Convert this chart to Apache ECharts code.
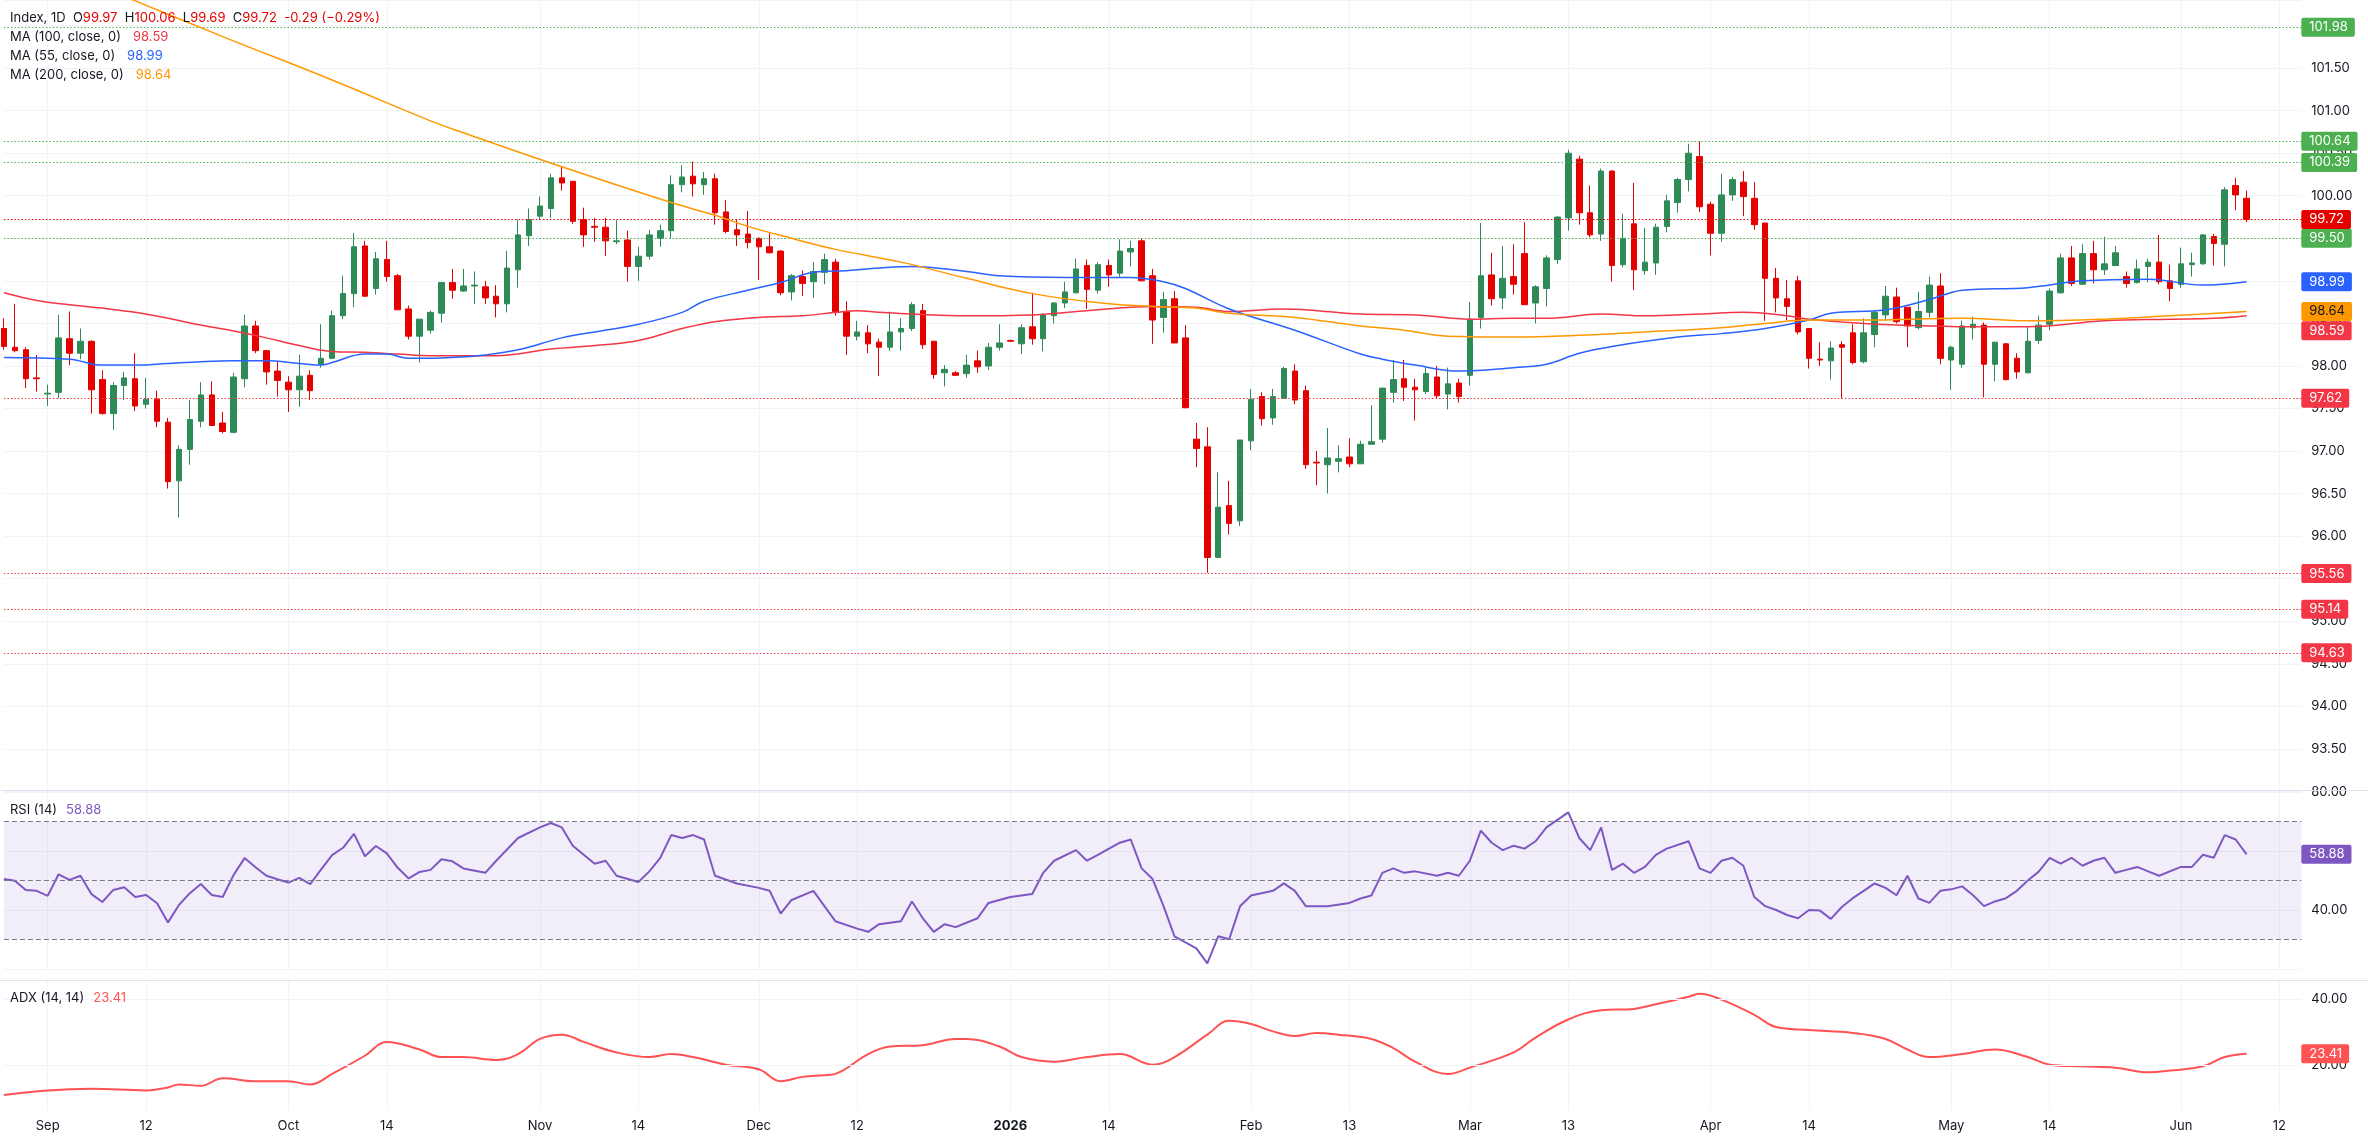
<!DOCTYPE html>
<html><head><meta charset="utf-8">
<script src="https://cdn.jsdelivr.net/npm/echarts@6/dist/echarts.min.js"></script>
<style>html,body{margin:0;padding:0;background:#fff}#c{width:2368px;height:1137px}</style>
</head><body><div id="c"></div>
<script>
// ---------------- DATA ----------------
const startDate = '2025-08-26';
const totalCategories = 211;
const tickLabels = [
 ['2025-09-01','Sep'],['2025-09-12','12'],['2025-10-01','Oct'],['2025-10-14','14'],
 ['2025-11-03','Nov'],['2025-11-14','14'],['2025-12-01','Dec'],['2025-12-12','12'],
 ['2026-01-01','2026'],['2026-01-14','14'],['2026-02-02','Feb'],['2026-02-13','13'],
 ['2026-03-02','Mar'],['2026-03-13','13'],['2026-04-01','Apr'],['2026-04-14','14'],
 ['2026-05-01','May'],['2026-05-14','14'],['2026-06-01','Jun'],['2026-06-12','12']
];
const boldTicks = ['2026'];

const opens = [98.44,98.22,98.19,97.86,97.67,97.69,98.32,98.15,98.29,97.84,
97.44,97.77,97.85,97.55,97.61,97.34,96.65,97.02,97.35,97.66,
97.33,97.22,97.85,98.47,98.18,97.94,97.81,97.72,97.89,98.02,
98.09,98.59,98.85,99.41,98.91,99.25,99.06,98.67,98.35,98.42,
98.62,98.98,98.88,98.94,98.93,98.82,98.73,99.13,99.53,99.76,
99.85,100.21,100.17,99.72,99.64,99.63,99.46,99.48,99.17,99.29,
99.50,99.59,100.13,100.23,100.13,100.20,99.81,99.60,99.55,99.50,
99.40,99.35,98.87,99.05,98.99,99.10,99.22,98.64,98.35,98.39,
98.28,98.22,98.40,98.44,98.65,98.29,97.92,97.92,97.91,98.06,
98.00,98.22,98.30,98.26,98.46,98.32,98.59,98.74,98.86,99.18,
98.89,99.18,99.09,99.34,99.47,99.06,98.57,98.79,98.33,97.14,
97.05,95.75,96.36,96.18,97.12,97.64,97.39,97.62,97.94,97.71,
96.87,96.84,96.88,96.93,96.85,97.08,97.14,97.69,97.85,97.75,
97.70,97.87,97.67,97.80,97.89,98.57,99.07,98.80,99.05,99.32,
98.74,98.91,99.25,99.74,100.43,99.80,99.55,100.29,99.19,99.67,
99.12,99.21,99.64,99.92,100.19,100.46,99.90,99.56,100.01,100.16,
99.97,99.68,99.03,98.79,99.00,98.44,98.08,98.06,98.25,98.39,
98.05,98.37,98.60,98.81,98.69,98.45,98.63,98.94,98.07,98.02,
98.45,98.48,98.02,98.26,98.09,97.92,98.30,98.49,98.86,99.27,
98.96,99.32,99.13,99.18,99.05,98.98,99.17,99.22,99.00,98.96,
99.19,99.20,99.52,99.43,100.12,99.97];
const highs = [98.56,98.73,98.22,98.13,97.78,98.60,98.64,98.44,98.30,97.95,
97.81,97.93,98.15,97.86,97.71,97.39,97.07,97.60,97.81,97.82,
97.46,97.92,98.60,98.53,98.18,98.05,97.88,98.13,97.95,98.49,
98.65,99.06,99.56,99.47,99.34,99.47,99.08,98.71,98.55,98.65,
98.98,99.14,99.14,99.11,99.00,98.95,99.35,99.72,99.85,99.99,
100.26,100.35,100.17,99.86,99.74,99.74,99.71,99.59,99.40,99.60,
99.66,100.24,100.36,100.40,100.28,100.26,99.95,99.72,99.82,99.51,
99.56,99.36,99.08,99.12,99.22,99.32,99.26,98.76,98.53,98.48,
98.32,98.64,98.56,98.75,98.73,98.29,98.01,97.94,98.13,98.18,
98.27,98.49,98.31,98.49,98.86,98.62,98.75,98.99,99.26,99.25,
99.22,99.25,99.49,99.47,99.50,99.14,98.87,98.88,98.48,97.33,
97.28,96.75,96.65,97.13,97.73,97.69,97.73,97.99,98.02,97.77,
97.00,97.27,97.07,97.15,97.12,97.54,97.74,98.07,98.07,97.85,
97.99,98.00,97.98,97.85,98.75,99.68,99.33,99.41,99.43,99.69,
98.95,99.30,99.76,100.54,100.47,100.12,100.32,100.30,99.79,100.15,
99.62,99.67,100.01,100.21,100.61,100.64,99.93,100.26,100.22,100.29,
100.16,99.68,99.15,99.01,99.06,98.44,98.28,98.29,98.29,98.49,
98.56,98.65,98.94,98.92,98.69,98.87,99.05,99.09,98.24,98.53,
98.58,98.51,98.28,98.27,98.15,98.46,98.59,98.91,99.32,99.41,
99.43,99.47,99.52,99.41,99.11,99.25,99.26,99.54,99.19,99.39,
99.33,99.55,99.55,100.10,100.21,100.06];
const lows = [98.19,98.16,97.74,97.70,97.53,97.62,98.01,98.08,97.44,97.43,
97.25,97.60,97.47,97.50,97.28,96.56,96.22,96.84,97.28,97.30,
97.21,97.21,97.75,98.15,97.78,97.64,97.46,97.52,97.60,97.98,
98.08,98.55,98.69,98.81,98.84,98.99,98.66,98.31,98.04,98.38,
98.51,98.79,98.87,98.73,98.73,98.57,98.63,98.92,99.41,99.72,
99.74,100.06,99.67,99.40,99.46,99.29,99.43,98.99,99.00,99.25,
99.40,99.50,100.04,99.99,100.01,99.66,99.56,99.41,99.38,99.01,
99.32,98.83,98.77,98.82,98.80,98.96,98.59,98.13,98.30,98.15,
97.88,98.18,98.18,98.41,98.20,97.85,97.76,97.89,97.86,97.92,
97.95,98.18,98.29,98.14,98.25,98.17,98.50,98.68,98.85,98.67,
98.85,98.93,99.05,99.17,99.00,98.26,98.39,98.27,97.50,96.81,
95.57,95.75,96.02,96.12,97.01,97.30,97.31,97.62,97.55,96.79,
96.60,96.50,96.75,96.81,96.85,97.08,97.10,97.57,97.59,97.36,
97.67,97.62,97.49,97.57,97.77,98.44,98.71,98.67,98.84,98.72,
98.50,98.70,99.20,99.59,99.66,99.51,99.47,98.99,99.16,98.89,
99.07,99.07,99.57,99.80,100.05,99.81,99.30,99.46,99.94,99.76,
99.60,98.53,98.63,98.54,98.37,97.97,98.00,97.84,97.62,98.02,
98.03,98.22,98.53,98.50,98.22,98.43,98.57,98.02,97.72,97.98,
98.31,97.63,97.82,97.83,97.85,97.91,98.26,98.42,98.85,98.94,
98.96,98.97,99.07,99.18,98.92,98.97,98.98,98.96,98.76,98.92,
99.05,99.19,99.18,99.17,99.83,99.69];
const closes = [98.23,98.18,97.85,97.85,97.68,98.33,98.15,98.29,97.72,97.44,
97.77,97.86,97.53,97.61,97.35,96.64,97.02,97.37,97.66,97.30,
97.23,97.87,98.47,98.18,97.93,97.83,97.72,97.88,97.71,98.09,
98.59,98.85,99.40,98.82,99.26,99.05,98.66,98.35,98.55,98.63,
98.98,98.89,98.94,98.95,98.80,98.73,99.15,99.54,99.72,99.88,
100.21,100.15,99.70,99.54,99.63,99.47,99.47,99.17,99.29,99.54,
99.59,100.13,100.22,100.14,100.20,99.80,99.58,99.54,99.45,99.40,
99.33,98.86,99.06,98.97,99.11,99.25,98.64,98.35,98.40,98.26,
98.22,98.40,98.44,98.72,98.25,97.90,97.96,97.89,98.01,97.99,
98.22,98.27,98.29,98.45,98.32,98.60,98.74,98.87,99.14,98.90,
99.19,99.07,99.35,99.38,99.00,98.54,98.78,98.27,97.51,97.03,
95.75,96.34,96.15,97.13,97.61,97.38,97.64,97.97,97.60,96.84,
96.86,96.92,96.91,96.85,97.08,97.11,97.74,97.84,97.75,97.72,
97.91,97.65,97.79,97.64,98.55,99.06,98.79,99.03,98.96,98.72,
98.93,99.27,99.75,100.50,99.80,99.54,100.29,99.18,99.50,99.13,
99.22,99.63,99.94,100.19,100.50,99.87,99.56,100.01,100.19,99.99,
99.66,99.03,98.80,98.70,98.40,98.09,98.07,98.21,98.22,98.04,
98.39,98.63,98.82,98.52,98.47,98.64,98.95,98.09,98.22,98.47,
98.49,98.02,98.28,97.84,97.93,98.29,98.48,98.88,99.27,98.97,
99.32,99.13,99.20,99.33,98.97,99.14,99.22,98.99,98.91,99.20,
99.21,99.54,99.44,100.07,100.01,99.72];

// moving averages: [barIndex, value]
const ma100 = [[0,98.86],[3,98.77],[6,98.72],[9,98.68],[12,98.63],[15,98.56],[18,98.48],[21,98.41],[24,98.33],[27,98.24],[30,98.17],[33,98.16],[36,98.14],[39,98.12],[45,98.12],[50,98.20],[54,98.24],[58,98.30],[62,98.44],[65,98.52],[69,98.57],[73,98.59],[76,98.63],[78,98.65],[80,98.63],[83,98.61],[88,98.59],[94,98.60],[100,98.66],[105,98.70],[109,98.69],[112,98.64],[117,98.67],[120,98.65],[124,98.61],[129,98.60],[134,98.55],[138,98.56],[141,98.56],[146,98.61],[150,98.59],[155,98.61],[159,98.63],[163,98.59],[165,98.55],[170,98.50],[176,98.47],[181,98.46],[185,98.46],[192,98.53],[198,98.55],[202,98.56],[205,98.59]];
const ma55 = [[0,98.10],[6,98.08],[9,98.01],[12,98.01],[15,98.03],[18,98.05],[21,98.06],[24,98.06],[27,98.03],[29,98.01],[30,98.04],[33,98.14],[35,98.14],[37,98.09],[39,98.09],[41,98.10],[44,98.13],[47,98.19],[51,98.33],[54,98.40],[58,98.49],[62,98.63],[64,98.76],[68,98.89],[71,98.98],[74,99.10],[77,99.12],[83,99.17],[88,99.11],[91,99.06],[97,99.04],[103,99.04],[106,98.99],[108,98.91],[112,98.67],[118,98.42],[124,98.14],[126,98.08],[129,98.01],[133,97.94],[138,97.98],[141,98.02],[144,98.15],[147,98.23],[153,98.34],[157,98.38],[161,98.44],[165,98.54],[167,98.62],[172,98.66],[176,98.78],[179,98.89],[185,98.92],[190,99.00],[196,99.02],[201,98.95],[205,98.99]];
const ma200 = [[0,102.91],[12,102.29],[20,101.87],[30,101.36],[39,100.88],[42,100.74],[51,100.34],[61,99.92],[65,99.77],[68,99.64],[72,99.50],[76,99.37],[82,99.22],[88,99.03],[94,98.85],[101,98.73],[105,98.70],[109,98.68],[112,98.62],[118,98.57],[124,98.47],[128,98.42],[132,98.35],[138,98.34],[144,98.36],[150,98.40],[156,98.44],[161,98.50],[165,98.54],[170,98.54],[179,98.56],[185,98.53],[192,98.55],[198,98.59],[205,98.64]];

const rsi14 = [[0,50.5],[1,49.9],[2,46.8],[3,46.5],[4,44.8],[5,52.1],[6,50.2],[7,51.6],[8,45.4],[9,42.7],[10,46.8],[11,47.7],[12,44.4],[13,45.1],[14,42.3],[15,35.8],[16,41.7],[17,45.7],[18,48.8],[19,45.1],[20,44.4],[21,51.9],[22,57.6],[23,54.5],[24,51.6],[25,50.4],[26,49.3],[27,50.9],[28,48.8],[29,53.8],[30,58.6],[31,61.1],[32,65.8],[33,58.2],[34,61.7],[35,59.2],[36,54.3],[37,50.7],[38,52.9],[39,53.6],[40,57.2],[41,56.5],
[42,54.1],[44,52.6],[45,56.7],[47,64.4],[49,68.0],[50,69.5],[51,68.0],[52,61.8],[54,55.7],[55,56.7],[56,51.6],[58,49.5],[59,53.1],[60,57.7],[61,65.4],[62,64.4],[63,65.4],[64,63.9],[65,51.6],[67,49.0],[69,47.5],[70,46.5],[71,38.8],[72,43.4],[74,46.5],[75,41.3],[76,36.2],[78,33.7],[79,32.6],[80,35.2],[82,36.2],[83,42.9],[84,37.2],[85,32.6],[86,35.2],[87,34.2],[89,37.2],[90,42.4],[91,43.4],[92,44.4],[94,45.4],[95,52.6],[96,56.7],[98,60.3],[99,56.7],[100,58.7],[102,62.8],[103,63.9],[104,54.1],[105,50.5],[106,41.3],[107,31.1],[109,27.0],[110,21.9],[111,31.1],[112,30.1],[113,41.3],[114,44.9],[116,46.5],[117,49.0],[118,46.5],[119,41.3],[121,41.3],[123,42.4],[124,43.9],[125,44.9],[126,52.6],[127,54.1],[128,52.6],[129,53.1],[131,51.6],[132,52.6],[133,51.6],[134,56.7],[135,66.9],[136,62.8],[137,60.3],[138,61.8],[139,60.8],[140,63.3],[141,68.0],[143,73.1],[144,64.4],[145,60.3],[146,68.0],[147,53.6],[148,55.7],[149,52.6],[150,54.6],[151,58.7],[152,60.8],[154,63.3],[155,54.1],[156,52.6],[157,56.7],[158,57.7],[159,55.0],[160,44.4],[161,41.3],[162,40.0],[163,38.3],[164,37.2],[165,40.0],[166,39.8],[167,37.0],[168,41.0],[169,44.0],[170,46.5],[171,49.0],[172,47.5],[173,45.0],[174,51.6],[175,43.9],[176,42.4],[177,46.5],[178,47.0],[179,48.0],[180,45.0],[181,41.3],[182,42.9],[183,44.0],[184,46.5],[185,50.0],[186,53.0],[187,57.7],[188,55.7],[189,57.7],[190,55.0],[191,56.7],[192,57.7],[193,52.6],[194,53.6],[195,54.6],[196,53.1],[197,51.6],[199,54.6],[200,54.6],[201,58.7],[202,57.7],[203,65.4],[204,63.9],[205,58.88]];
const adx14 = [[0,10.9],[4,12.3],[8,12.8],[13,12.3],[15,13.2],[16,14.1],[18,13.7],[20,16.0],[23,15.1],[26,15.1],[28,14.1],[30,17.3],[33,22.8],[35,27.0],[38,24.7],[40,22.4],[42,22.4],[45,21.5],[47,23.3],[49,27.9],[51,29.2],[53,27.0],[56,23.8],[59,22.4],[61,23.3],[63,22.4],[66,20.1],[69,18.7],[71,15.1],[73,16.4],[75,16.9],[76,17.3],[79,23.3],[81,25.6],[84,26.0],[87,27.9],[88,27.9],[91,25.6],[93,22.4],[96,21.0],[99,22.4],[102,23.3],[105,20.1],[107,22.4],[110,29.2],[112,33.4],[114,32.4],[116,30.2],[118,28.8],[120,29.7],[122,29.2],[125,27.9],[127,25.1],[129,21.0],[132,17.3],[134,19.2],[138,23.8],[140,28.3],[143,33.8],[146,36.6],[149,37.0],[151,38.4],[154,40.7],[155,41.6],[157,39.8],[160,35.2],[162,31.5],[165,30.6],[169,29.7],[172,27.9],[174,24.7],[176,22.4],[179,23.3],[182,24.7],[185,22.4],[187,20.1],[190,19.6],[193,19.2],[196,17.8],[198,18.3],[201,19.6],[203,22.4],[205,23.41]];

const resistanceLevels = [101.98, 100.64, 100.39, 99.50];
const supportLevels = [97.62, 95.56, 95.14, 94.63];
const rsiBands = [70, 50, 30];
const adxTicks = [20, 40];

// ---------------- BUILD ----------------
function weekdays(start, n) {
  const out = []; const d = new Date(start + 'T00:00:00Z');
  while (out.length < n) { const w = d.getUTCDay(); if (w !== 0 && w !== 6) out.push(d.toISOString().slice(0, 10)); d.setUTCDate(d.getUTCDate() + 1); }
  return out;
}
const categories = weekdays(startDate, totalCategories);
const tickMap = {};
tickLabels.forEach(([d, l]) => { const i = categories.indexOf(d); if (i >= 0) tickMap[i] = l; });
const isTick = (i) => tickMap[i] !== undefined;

const FONT = 'Inter';
const INK = '#131722';
const GRID = '#f0f3fa';
const UP = '#2e8b57', DOWN = '#e50000';
const C100 = '#f23645', C55 = '#2962ff', C200 = '#ff9800', CRSI = '#7e57c2', CADX = '#ff5252';
const GREENLVL = '#4caf50', REDLVL = '#f23645';
const fmt = v => v.toFixed(2);

const candleData = opens.map((o, i) => [o, closes[i], lows[i], highs[i]]);
const last = closes.length - 1;
const lastClose = closes[last];
const chg = closes[last] - closes[last - 1];
const pct = chg / closes[last - 1] * 100;

function boxLabel(text, bg, fg, extra) {
  return Object.assign({ show: true, position: 'end', distance: 0, formatter: text, backgroundColor: bg, color: fg || '#fff',
    padding: [3, 7, 3, 8], fontSize: 13, lineHeight: 13, fontFamily: FONT, borderRadius: 2 }, extra || {});
}
function valueBox(v, bg, fg, extra) {
  return { yAxis: v, lineStyle: { width: 0, color: 'rgba(0,0,0,0)' }, label: boxLabel(fmt(v), bg, fg, extra) };
}
function levelLine(v, color, boxColor) {
  return { yAxis: v, lineStyle: { color: color, type: [1.5, 2], width: 1 }, label: boxLabel(fmt(v), boxColor || color) };
}

const xAxisBase = (gi, showLabel) => ({
  type: 'category', gridIndex: gi, data: categories, boundaryGap: false,
  axisLine: { show: false }, axisTick: { show: false }, axisPointer: { show: false },
  axisLabel: { show: showLabel, interval: (i) => isTick(i), color: INK, fontSize: 13, fontFamily: FONT, margin: 10,
    formatter: (v, i) => { const l = tickMap[i]; if (l === undefined) return ''; return boldTicks.includes(l) ? '{b|' + l + '}' : l; },
    rich: { b: { fontWeight: 'bold', fontSize: 13, fontFamily: FONT, color: INK } } },
  splitLine: { show: true, interval: (i) => isTick(i), lineStyle: { color: GRID, width: 1 } }
});
const yLabel = { color: INK, fontSize: 13, fontFamily: FONT, margin: 10, formatter: v => v.toFixed(2), showMaxLabel: false, showMinLabel: false };

const lastMA100 = ma100[ma100.length - 1][1];
const lastMA55 = ma55[ma55.length - 1][1];
const lastMA200 = ma200[ma200.length - 1][1];
const lastRSI = rsi14[rsi14.length - 1][1];
const lastADX = adx14[adx14.length - 1][1];

const option = {
  animation: false,
  backgroundColor: '#ffffff',
  textStyle: { fontFamily: FONT },
  grid: [
    { left: 3.9, right: 66.7, top: 0, height: 791.5, outerBoundsMode: 'none' },
    { left: 3.9, right: 66.7, top: 791.5, height: 177.5, outerBoundsMode: 'none' },
    { left: 3.9, right: 66.7, top: 980, height: 130, outerBoundsMode: 'none' }
  ],
  xAxis: [xAxisBase(0, false), xAxisBase(1, false), xAxisBase(2, true)],
  yAxis: [
    { type: 'value', gridIndex: 0, position: 'right', min: 93, max: 102.3, interval: 0.5,
      axisLine: { show: false }, axisTick: { show: false }, axisLabel: yLabel, splitLine: { lineStyle: { color: GRID } } },
    { type: 'value', gridIndex: 1, position: 'right', min: 20, max: 80.17, interval: 20,
      axisLine: { show: false }, axisTick: { show: false }, axisLabel: yLabel, splitLine: { lineStyle: { color: GRID } } },
    { type: 'value', gridIndex: 2, position: 'right', min: 6.36, max: 45.76,
      axisLine: { show: false }, axisTick: { show: false }, axisLabel: { show: false }, splitLine: { show: false } }
  ],
  series: [
    { // level lines
      type: 'line', xAxisIndex: 0, yAxisIndex: 0, data: [], z: 2, silent: true,
      markLine: { symbol: ['none', 'none'], silent: true, animation: false,
        data: resistanceLevels.map(v => levelLine(v, GREENLVL))
          .concat(supportLevels.map(v => levelLine(v, REDLVL)))
          .concat([levelLine(lastClose, DOWN)]) }
    },
    { type: 'candlestick', name: 'Index', xAxisIndex: 0, yAxisIndex: 0, data: candleData, barWidth: 6, clip: false, z: 3,
      itemStyle: { color: UP, color0: DOWN, borderColor: UP, borderColor0: DOWN, borderWidth: 1 } },
    { type: 'line', name: 'MA100', xAxisIndex: 0, yAxisIndex: 0, data: ma100, showSymbol: false, smooth: 0.4, z: 4,
      lineStyle: { color: C100, width: 1.5 },
      markLine: { symbol: ['none', 'none'], silent: true, data: [valueBox(lastMA100, C100, '#fff', { offset: [0, 15] })] } },
    { type: 'line', name: 'MA55', xAxisIndex: 0, yAxisIndex: 0, data: ma55, showSymbol: false, smooth: 0.4, z: 4,
      lineStyle: { color: C55, width: 1.5 },
      markLine: { symbol: ['none', 'none'], silent: true, data: [valueBox(lastMA55, C55)] } },
    { type: 'line', name: 'MA200', xAxisIndex: 0, yAxisIndex: 0, data: ma200, showSymbol: false, smooth: 0.4, z: 5,
      lineStyle: { color: C200, width: 1.5 },
      markLine: { symbol: ['none', 'none'], silent: true, data: [valueBox(lastMA200, C200, INK)] } },
    { type: 'line', name: 'RSI', xAxisIndex: 1, yAxisIndex: 1, data: rsi14, showSymbol: false, z: 4,
      lineStyle: { color: CRSI, width: 2 },
      markArea: { silent: true, itemStyle: { color: 'rgba(126,87,194,0.1)' }, data: [[{ yAxis: rsiBands[2] }, { yAxis: rsiBands[0] }]] },
      markLine: { symbol: ['none', 'none'], silent: true,
        data: rsiBands.map(v => ({ yAxis: v, lineStyle: { color: '#787b86', type: [5, 3], width: 1 }, label: { show: false } }))
          .concat([valueBox(lastRSI, CRSI)]) } },
    { // ADX grid lines & labels
      type: 'line', xAxisIndex: 2, yAxisIndex: 2, data: [], z: 1, silent: true,
      markLine: { symbol: ['none', 'none'], silent: true,
        data: adxTicks.map(v => ({ yAxis: v, lineStyle: { color: GRID, type: 'solid', width: 1 },
          label: { show: true, position: 'end', distance: 10, formatter: fmt(v), color: INK, fontSize: 13, fontFamily: FONT } })) } },
    { type: 'line', name: 'ADX', xAxisIndex: 2, yAxisIndex: 2, data: adx14, showSymbol: false, smooth: 0.4, z: 4,
      lineStyle: { color: CADX, width: 2 },
      markLine: { symbol: ['none', 'none'], silent: true, data: [valueBox(lastADX, CADX)] } }
  ],
  graphic: [
    { type: 'line', silent: true, z: 50, shape: { x1: 0, y1: 790.5, x2: 2368, y2: 790.5 }, style: { stroke: '#e0e3eb', lineWidth: 1 } },
    { type: 'line', silent: true, z: 50, shape: { x1: 0, y1: 980.5, x2: 2368, y2: 980.5 }, style: { stroke: '#e0e3eb', lineWidth: 1 } },
    { type: 'text', x: 10, y: 18.5, z: 100, silent: true, style: {
        text: '{k|Index, 1D}  {k|O}{r|' + fmt(opens[last]) + '}  {k|H}{r|' + fmt(highs[last]) + '}  {k|L}{r|' + fmt(lows[last]) + '}  {k|C}{r|' + fmt(closes[last]) + '}  {r|' +
          (chg < 0 ? '-' : '+') + Math.abs(chg).toFixed(2) + ' (' + (chg < 0 ? '\u2212' : '+') + Math.abs(pct).toFixed(2) + '%)}',
        font: '13px Inter', fill: INK, verticalAlign: 'middle', align: 'left',
        rich: { k: { fill: INK, fontSize: 13, fontFamily: FONT }, r: { fill: DOWN, fontSize: 13, fontFamily: FONT } } } },
    { type: 'text', x: 10, y: 37.5, z: 100, silent: true, style: { text: '{k|MA (100, close, 0)}{v|' + fmt(lastMA100) + '}', font: '13px Inter', verticalAlign: 'middle',
        rich: { k: { fill: INK, fontSize: 13, fontFamily: FONT }, v: { fill: C100, fontSize: 13, fontFamily: FONT, padding: [0, 0, 0, 12] } } } },
    { type: 'text', x: 10, y: 56.5, z: 100, silent: true, style: { text: '{k|MA (55, close, 0)}{v|' + fmt(lastMA55) + '}', font: '13px Inter', verticalAlign: 'middle',
        rich: { k: { fill: INK, fontSize: 13, fontFamily: FONT }, v: { fill: C55, fontSize: 13, fontFamily: FONT, padding: [0, 0, 0, 12] } } } },
    { type: 'text', x: 10, y: 75.5, z: 100, silent: true, style: { text: '{k|MA (200, close, 0)}{v|' + fmt(lastMA200) + '}', font: '13px Inter', verticalAlign: 'middle',
        rich: { k: { fill: INK, fontSize: 13, fontFamily: FONT }, v: { fill: C200, fontSize: 13, fontFamily: FONT, padding: [0, 0, 0, 12] } } } },
    { type: 'text', x: 10, y: 810, z: 100, silent: true, style: { text: '{k|RSI (14)}{v|' + fmt(lastRSI) + '}', font: '13px Inter', verticalAlign: 'middle',
        rich: { k: { fill: INK, fontSize: 13, fontFamily: FONT }, v: { fill: CRSI, fontSize: 13, fontFamily: FONT, padding: [0, 0, 0, 9] } } } },
    { type: 'text', x: 10, y: 998, z: 100, silent: true, style: { text: '{k|ADX (14, 14)}{v|' + fmt(lastADX) + '}', font: '13px Inter', verticalAlign: 'middle',
        rich: { k: { fill: INK, fontSize: 13, fontFamily: FONT }, v: { fill: CADX, fontSize: 13, fontFamily: FONT, padding: [0, 0, 0, 9] } } } }
  ]
};

const chart = echarts.init(document.getElementById('c'), null, { renderer: 'canvas' });
chart.setOption(option);
</script>
</body></html>
